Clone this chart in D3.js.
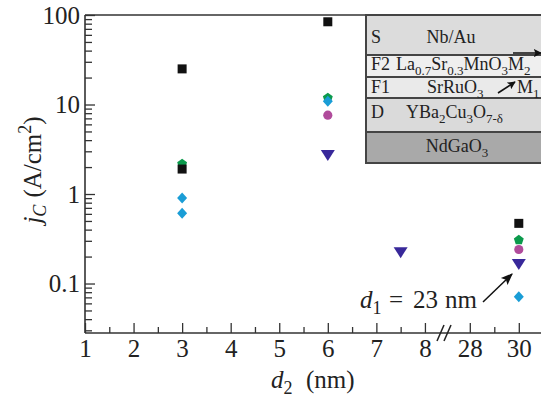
<!DOCTYPE html>
<html>
<head>
<meta charset="utf-8">
<script src="https://cdn.jsdelivr.net/npm/d3@7"></script>
<style>
body{margin:0;background:#fff;}
svg{display:block;font-family:"Liberation Serif","Times New Roman",serif;}
</style>
</head>
<body>
<main></main>
<script>
// jc vs d2
const d2Pentagon=[3,6,30];
const jcPentagon=[2.2,12,0.31];
const d2Diamond=[3,3,6,30];
const jcDiamond=[0.9,0.61,10.9,0.071];
const d2Circle=[6,30];
const jcCircle=[7.6,0.24];
const d2Triangle=[6,7.5,30];
const jcTriangle=[2.8,0.23,0.17];
const d2Square=[3,3,6,30];
const jcSquare=[25,1.9,84,0.47];

const xMajor=[1,2,3,4,5,6,7,8,28,30];
const xMinor=[1.5,2.5,3.5,4.5,5.5,6.5,7.5,29];
const yMajor=[0.1,1,10,100];

const w=541,h=401;
const padLeft=85,padTop=15,padBottom=333;

const svg=d3.select("main").append("svg")
  .attr("width",w).attr("height",h);

// broken x axis: 1..8.3 then 27.6..30.6
const xScale=d3.scaleLinear()
  .domain([1,8.3,27.6,30.6])
  .range([padLeft,439.5,460,533.5]);
const yScale=d3.scaleLog()
  .domain([0.028,100])
  .range([padBottom,padTop]);

const yMinor=[];
[0.01,0.1,1,10].forEach(dec=>{
  for(let k=2;k<=9;k++){
    const v=dec*k;
    if(v>=0.028&&v<100) yMinor.push(v);
  }
});

const axisColor="#333";

// minor ticks
svg.append("g")
  .attr("transform","translate(0,"+padBottom+")")
  .call(d3.axisBottom(xScale).tickValues(xMinor).tickSize(-6).tickFormat(""))
  .call(g=>g.select(".domain").remove());
svg.append("g")
  .attr("transform","translate("+padLeft+",0)")
  .call(d3.axisLeft(yScale).tickValues(yMinor).tickSize(-7).tickFormat(""))
  .call(g=>g.select(".domain").remove());

// major ticks
const xAxis=svg.append("g")
  .attr("transform","translate(0,"+padBottom+")")
  .call(d3.axisBottom(xScale).tickValues(xMajor).tickSize(-10).tickSizeOuter(0).tickPadding(6).tickFormat(d3.format("d")));
const yAxis=svg.append("g")
  .attr("transform","translate("+padLeft+",0)")
  .call(d3.axisLeft(yScale).tickValues(yMajor).tickSize(-10).tickSizeOuter(0).tickPadding(5).tickFormat(d=>d<1?"0.1":d3.format("d")(d)));

svg.selectAll(".tick line").attr("stroke",axisColor).attr("stroke-width",1.3);
svg.selectAll(".domain").attr("stroke",axisColor).attr("stroke-width",1.6);
svg.selectAll(".tick text")
  .attr("fill","#222")
  .style("font-size","25px")
  .style("font-family","'Liberation Serif',serif");
xAxis.select(".domain").attr("d","M"+padLeft+",0H"+w);
yAxis.select(".domain").attr("d","M0,"+padTop+"V"+padBottom);

// top border
svg.append("line")
  .attr("x1",padLeft).attr("x2",w)
  .attr("y1",padTop).attr("y2",padTop)
  .attr("stroke",axisColor).attr("stroke-width",1.6);

// axis break
[0,7].forEach(off=>{
  svg.append("line")
    .attr("x1",437+off).attr("y1",341)
    .attr("x2",444+off).attr("y2",325)
    .attr("stroke","#222").attr("stroke-width",1.5);
});

// marker shapes
function poly(pts){return "M"+pts.map(p=>p.join(",")).join("L")+"Z";}
const pentagonPath=poly(d3.range(5).map(i=>{
  const a=-Math.PI/2+i*2*Math.PI/5;
  return [5.2*Math.cos(a),5.2*Math.sin(a)+0.5];
}));
const diamondPath=poly([[0,-5.5],[5,0],[0,5.5],[-5,0]]);
const trianglePath=poly([[-7,-4],[7,-4],[0,7]]);
const squarePath=poly([[-4.5,-4.5],[4.5,-4.5],[4.5,4.5],[-4.5,4.5]]);
const circlePath=d3.symbol(d3.symbolCircle,66)();

function drawSeries(xs,ys,path,color){
  svg.append("g").selectAll("path")
    .data(ys)
    .enter()
    .append("path")
    .attr("d",path)
    .attr("fill",color)
    .attr("transform",(d,i)=>"translate("+xScale(xs[i])+","+yScale(d)+")");
}
drawSeries(d2Pentagon,jcPentagon,pentagonPath,"#0b9a4c");
drawSeries(d2Diamond,jcDiamond,diamondPath,"#1a9dd6");
drawSeries(d2Circle,jcCircle,circlePath,"#b04b9b");
drawSeries(d2Triangle,jcTriangle,trianglePath,"#38289a");
drawSeries(d2Square,jcSquare,squarePath,"#111");

// axis titles
const yTitle=svg.append("text")
  .attr("transform","translate(41,170) rotate(-90)")
  .attr("text-anchor","middle")
  .attr("fill","#222")
  .style("font-size","25px");
yTitle.append("tspan").style("font-style","italic").text("j");
yTitle.append("tspan").style("font-style","italic").style("font-size","18px").attr("dy",5).text("C");
yTitle.append("tspan").attr("dy",-5).attr("dx",7).text("(A/cm");
yTitle.append("tspan").style("font-size","18px").attr("dy",-10).text("2");
yTitle.append("tspan").attr("dy",10).text(")");

const xTitle=svg.append("text")
  .attr("x",271).attr("y",388)
  .attr("fill","#222")
  .style("font-size","25px");
xTitle.append("tspan").style("font-style","italic").text("d");
xTitle.append("tspan").style("font-size","18px").attr("dy",6).text("2");
xTitle.append("tspan").attr("dy",-6).attr("x",306).text("(nm)");

// annotation
const ann=svg.append("text")
  .attr("x",360).attr("y",308)
  .attr("fill","#222")
  .style("font-size","25px");
ann.append("tspan").style("font-style","italic").text("d");
ann.append("tspan").style("font-size","18px").attr("dy",6).text("1");
ann.append("tspan").attr("dy",-6).attr("x",389).text("=");
ann.append("tspan").attr("x",413).text("23");
ann.append("tspan").attr("x",445).text("nm");

const defs=svg.append("defs");
defs.append("marker")
  .attr("id","head").attr("viewBox","0 0 10 10")
  .attr("refX",9).attr("refY",5)
  .attr("markerWidth",8).attr("markerHeight",8)
  .attr("markerUnits","userSpaceOnUse")
  .attr("orient","auto")
  .append("path").attr("d","M0,0L10,5L0,10L2,5Z").attr("fill","#111");
defs.append("marker")
  .attr("id","head2").attr("viewBox","0 0 10 10")
  .attr("refX",9).attr("refY",5)
  .attr("markerWidth",12).attr("markerHeight",12)
  .attr("markerUnits","userSpaceOnUse")
  .attr("orient","auto")
  .append("path").attr("d","M0,1L10,5L0,9L2,5Z").attr("fill","#111");
svg.append("line")
  .attr("x1",483).attr("y1",302).attr("x2",512).attr("y2",274)
  .attr("stroke","#111").attr("stroke-width",1.5)
  .attr("marker-end","url(#head2)");

// inset: layer stack
const layerNames=["S","F2","F1","D",""];
const layerTops=[15,55,77,98,132];
const layerBottoms=[55,77,98,132,163];
const layerFill=["#dcdcdc","#efefef","#eaeaea","#dadada","#a9a9a9"];
const inset=svg.append("g");
inset.selectAll("rect")
  .data(layerTops)
  .enter()
  .append("rect")
  .attr("x",366)
  .attr("y",d=>d)
  .attr("width",200)
  .attr("height",(d,i)=>layerBottoms[i]-d)
  .attr("fill",(d,i)=>layerFill[i])
  .attr("stroke","#444")
  .attr("stroke-width",2);
inset.selectAll("text.lab")
  .data(layerNames)
  .enter()
  .append("text")
  .attr("class","lab")
  .attr("x",371)
  .attr("y",(d,i)=>[43,70,93,118,0][i])
  .attr("fill","#222")
  .style("font-size","18px")
  .text(d=>d);

function formula(x,y,parts,anchor){
  const t=inset.append("text").attr("x",x).attr("y",y)
    .attr("fill","#222").style("font-size","18px")
    .attr("text-anchor",anchor||"start");
  let shift=0;
  parts.forEach(p=>{
    const sub=p[1]==="sub";
    const s=t.append("tspan").text(p[0]);
    if(sub){
      s.style("font-size","13px").attr("dy",5-shift);
      shift=5;
    }else{
      s.attr("dy",-shift);
      shift=0;
    }
  });
  return t;
}
formula(451,43,[["Nb/Au"]],"middle");
formula(396,70,[["La"],["0.7","sub"],["Sr"],["0.3","sub"],["MnO"],["3","sub"],["M"],["2","sub"]]);
formula(427,93,[["SrRuO"],["3","sub"]]);
formula(517,93,[["M"],["1","sub"]]);
formula(406,118,[["YBa"],["2","sub"],["Cu"],["3","sub"],["O"],["7-\u03b4","sub"]]);
formula(457,152,[["NdGaO"],["3","sub"]],"middle");

inset.append("line")
  .attr("x1",513).attr("y1",53).attr("x2",541).attr("y2",53)
  .attr("stroke","#111").attr("stroke-width",1.5)
  .attr("marker-end","url(#head)");
inset.append("line")
  .attr("x1",498).attr("y1",93).attr("x2",515).attr("y2",82)
  .attr("stroke","#111").attr("stroke-width",1.5)
  .attr("marker-end","url(#head)");
</script>
</body>
</html>
